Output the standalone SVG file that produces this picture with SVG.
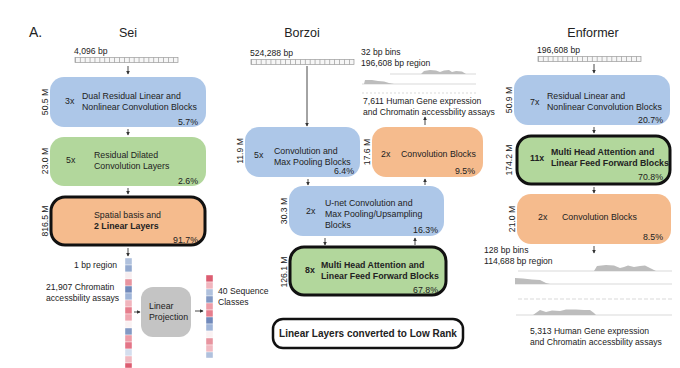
<svg xmlns="http://www.w3.org/2000/svg" width="680" height="368" viewBox="0 0 680 368">
<defs>
<style>
text{font-family:"Liberation Sans",Arial,sans-serif;fill:#222;}
.t{font-size:12.5px;}
.b{font-size:8.8px;}
.bb{font-size:8.8px;font-weight:bold;}
.s{font-size:8.6px;}
.r{font-size:8.6px;text-anchor:middle;}
.p{font-size:8.8px;text-anchor:end;}
.blue{fill:#adc7e8;}
.green{fill:#b2d79c;}
.orange{fill:#f5bb8d;}
.thick{stroke:#111;stroke-width:3;}
.arr{stroke:#333;stroke-width:0.9;fill:none;marker-end:url(#ah);}
.seqbox{fill:#f6f6f6;stroke:#9a9a9a;stroke-width:0.7;}
.seqtick{stroke:#9a9a9a;stroke-width:5;stroke-dasharray:0.7 4.2;}
.trk{fill:#bdbdbd;}
.base{stroke:#cfcfcf;stroke-width:0.8;}
</style>
<marker id="ah" viewBox="0 0 6 6" refX="5" refY="3" markerWidth="4" markerHeight="4" orient="auto">
<path d="M0,0 L6,3 L0,6 z" fill="#333"/>
</marker>
</defs>
<rect width="680" height="368" fill="#fff"/>

<text x="29" y="37" style="font-size:14px">A.</text>
<text x="128" y="37" class="t" text-anchor="middle">Sei</text>
<text x="302" y="37" class="t" text-anchor="middle">Borzoi</text>
<text x="593" y="37" class="t" text-anchor="middle">Enformer</text>

<g id="connectors">
<line class="arr" x1="128" y1="66" x2="128" y2="74"/>
<line class="arr" x1="128" y1="129" x2="128" y2="135"/>
<line class="arr" x1="128" y1="188" x2="128" y2="194"/>
<line class="arr" x1="128" y1="248" x2="128" y2="256"/>
<line class="arr" x1="134" y1="312" x2="140" y2="312"/>
<line class="arr" x1="195" y1="311" x2="203" y2="311"/>
<line class="arr" x1="307" y1="66" x2="307" y2="126"/>
<line class="arr" x1="425" y1="125" x2="425" y2="117"/>
<line class="arr" x1="308" y1="179" x2="308" y2="185"/>
<line class="arr" x1="425" y1="185" x2="425" y2="179"/>
<line class="arr" x1="325" y1="238" x2="325" y2="245"/>
<line class="arr" x1="415" y1="245" x2="415" y2="238"/>
<line class="arr" x1="594" y1="64" x2="594" y2="73"/>
<line class="arr" x1="594" y1="127" x2="594" y2="133"/>
<line class="arr" x1="594" y1="187" x2="594" y2="193"/>
<line class="arr" x1="594" y1="246" x2="594" y2="253"/>
</g>

<!-- Sei -->
<g id="sei-input">
<text x="74" y="54" class="s">4,096 bp</text>
<rect x="75" y="57.5" width="103" height="5" class="seqbox"/>
<line x1="75" y1="60" x2="178" y2="60" class="seqtick"/>
</g>
<g id="sei-dual">
<rect x="50" y="77" width="156" height="50" rx="14" class="blue"/>
<text transform="translate(48,102) rotate(-90)" class="r">50.5 M</text>
<text x="65" y="104" class="b">3x</text>
<text x="82" y="99" class="b">Dual Residual Linear and</text>
<text x="82" y="110" class="b">Nonlinear Convolution Blocks</text>
<text x="198" y="125" class="p">5.7%</text>
</g>
<g id="sei-dilated">
<rect x="50" y="137" width="156" height="49" rx="14" class="green"/>
<text transform="translate(48,161) rotate(-90)" class="r">23.0 M</text>
<text x="66" y="163" class="b">5x</text>
<text x="94" y="158" class="b">Residual Dilated</text>
<text x="94" y="169" class="b">Convolution Layers</text>
<text x="198" y="184" class="p">2.6%</text>
</g>
<g id="sei-spatial">
<rect x="51" y="197" width="154" height="48" rx="14" class="orange thick"/>
<text transform="translate(48,221) rotate(-90)" class="r">816.5 M</text>
<text x="94" y="218" class="b">Spatial basis and</text>
<text x="94" y="229" class="bb">2 Linear Layers</text>
<text x="198" y="243" class="p">91.7%</text>
</g>
<g id="sei-assays">
<text x="117" y="268" class="s" text-anchor="end">1 bp region</text>
<text x="46" y="290" class="s">21,907 Chromatin</text>
<text x="46" y="301" class="s">accessbility assays</text>
<g stroke="#fff" stroke-width="0.4">
<rect x="125" y="258" width="7" height="7" fill="#b0c1dd"/>
<rect x="125" y="265" width="7" height="7" fill="#93a9cf"/>
<rect x="125" y="272" width="7" height="7" fill="#f7eef0"/>
<rect x="125" y="279" width="7" height="7" fill="#e8949f"/>
<rect x="125" y="286" width="7" height="7" fill="#7089bb"/>
<rect x="125" y="293" width="7" height="7" fill="#a0b5d8"/>
<rect x="125" y="300" width="7" height="7" fill="#f1b5bd"/>
<rect x="125" y="307" width="7" height="7" fill="#e67d8c"/>
<rect x="125" y="314" width="7" height="7" fill="#efa6b0"/>
<rect x="125" y="321" width="7" height="7" fill="#faf2f3"/>
<rect x="125" y="328" width="7" height="7" fill="#8399c4"/>
<rect x="125" y="335" width="7" height="7" fill="#ed9ca7"/>
<rect x="125" y="342" width="7" height="7" fill="#e47587"/>
<rect x="125" y="349" width="7" height="7" fill="#d4deee"/>
<rect x="125" y="356" width="7" height="7" fill="#f1b9c1"/>
<rect x="125" y="363" width="7" height="5" fill="#dc5d71"/>
</g>
</g>
<g id="sei-projection">
<rect x="141" y="287" width="50" height="50" rx="12" fill="#c4c4c4"/>
<text x="149" y="309" class="b">Linear</text>
<text x="149" y="320" class="b">Projection</text>
</g>
<g id="sei-classes">
<g stroke="#fff" stroke-width="0.4">
<rect x="206" y="275" width="7" height="7" fill="#dc5d71"/>
<rect x="206" y="282" width="7" height="7" fill="#f1b5bd"/>
<rect x="206" y="289" width="7" height="7" fill="#b0c1dd"/>
<rect x="206" y="296" width="7" height="7" fill="#8399c4"/>
<rect x="206" y="303" width="7" height="7" fill="#ed9ca7"/>
<rect x="206" y="310" width="7" height="7" fill="#e67d8c"/>
<rect x="206" y="317" width="7" height="7" fill="#7089bb"/>
<rect x="206" y="324" width="7" height="7" fill="#a0b5d8"/>
<rect x="206" y="331" width="7" height="7" fill="#faf2f3"/>
<rect x="206" y="338" width="7" height="7" fill="#e8949f"/>
<rect x="206" y="345" width="7" height="7" fill="#f1b9c1"/>
<rect x="206" y="352" width="7" height="6" fill="#b0c1dd"/>
</g>
<text x="218" y="294" class="s">40 Sequence</text>
<text x="218" y="305" class="s">Classes</text>
</g>

<!-- Borzoi -->
<g id="borzoi-input">
<text x="250" y="56" class="s">524,288 bp</text>
<rect x="251" y="59.5" width="103" height="5" class="seqbox"/>
<line x1="251" y1="62" x2="354" y2="62" class="seqtick"/>
</g>
<g id="borzoi-output">
<text x="361" y="55" class="s">32 bp bins</text>
<text x="361" y="66" class="s">196,608 bp region</text>
<line class="base" x1="390" y1="74" x2="476" y2="74"/>
<path class="trk" d="M421,74 L424,71 L430,70 L436,70.5 L440,72 L444,70.5 L449,70 L452,72 L456,71 L462,71.5 L466,74 z"/>
<line class="base" x1="362" y1="84" x2="476" y2="84"/>
<path class="trk" d="M364,84 L365,80 L372,80 L378,81 L384,81.5 L389,83 L394,84 z"/>
<line class="base" x1="362" y1="93" x2="476" y2="93" stroke-dasharray="2 2"/>
<text x="363" y="104" class="s">7,611 Human Gene expression</text>
<text x="363" y="115" class="s">and Chromatin accessbility assays</text>
</g>
<g id="borzoi-conv-pool">
<rect x="245" y="127" width="115" height="50" rx="14" class="blue"/>
<text transform="translate(243,151) rotate(-90)" class="r">11.9 M</text>
<text x="254" y="158" class="b">5x</text>
<text x="274" y="154" class="b">Convolution and</text>
<text x="274" y="165" class="b">Max Pooling Blocks</text>
<text x="354" y="174" class="p">6.4%</text>
</g>
<g id="borzoi-conv">
<rect x="372" y="127" width="111" height="50" rx="14" class="orange"/>
<text transform="translate(370,152) rotate(-90)" class="r">17.6 M</text>
<text x="381" y="157" class="b">2x</text>
<text x="401" y="157" class="b">Convolution Blocks</text>
<text x="475" y="174" class="p">9.5%</text>
</g>
<g id="borzoi-unet">
<rect x="289" y="186" width="155" height="50" rx="14" class="blue"/>
<text transform="translate(287,211) rotate(-90)" class="r">30.3 M</text>
<text x="306" y="214" class="b">2x</text>
<text x="325" y="206" class="b">U-net Convolution and</text>
<text x="325" y="217" class="b">Max Pooling/Upsampling</text>
<text x="325" y="228" class="b">Blocks</text>
<text x="438" y="233" class="p">16.3%</text>
</g>
<g id="borzoi-attn">
<rect x="290" y="247" width="156" height="48" rx="14" class="green thick"/>
<text transform="translate(287,272) rotate(-90)" class="r">126.1 M</text>
<text x="305" y="273" class="bb">8x</text>
<text x="321" y="268" class="bb">Multi Head Attention and</text>
<text x="321" y="279" class="bb">Linear Feed Forward Blocks</text>
<text x="438" y="293" class="p">67.8%</text>
</g>
<g id="low-rank">
<rect x="273" y="319" width="190" height="29" rx="10" fill="#fff" stroke="#111" stroke-width="2.5"/>
<text x="368" y="337" text-anchor="middle" style="font-size:10px;font-weight:bold">Linear Layers converted to Low Rank</text>
</g>

<!-- Enformer -->
<g id="enformer-input">
<text x="537" y="53" class="s">196,608 bp</text>
<rect x="538" y="56.5" width="103" height="5" class="seqbox"/>
<line x1="538" y1="59" x2="641" y2="59" class="seqtick"/>
</g>
<g id="enformer-conv-res">
<rect x="514" y="75" width="156" height="50" rx="14" class="blue"/>
<text transform="translate(512,100) rotate(-90)" class="r">50.9 M</text>
<text x="530" y="105" class="b">7x</text>
<text x="547" y="99" class="b">Residual Linear and</text>
<text x="547" y="110" class="b">Nonlinear Convolution Blocks</text>
<text x="663" y="123" class="p">20.7%</text>
</g>
<g id="enformer-attn">
<rect x="517" y="136" width="153" height="48" rx="14" class="green thick"/>
<text transform="translate(512,160) rotate(-90)" class="r">174.2 M</text>
<text x="530" y="161" class="bb">11x</text>
<text x="551" y="155" class="bb">Multi Head Attention and</text>
<text x="551" y="166" class="bb">Linear Feed Forward Blocks</text>
<text x="663" y="180" class="p">70.8%</text>
</g>
<g id="enformer-conv">
<rect x="517" y="194" width="154" height="50" rx="14" class="orange"/>
<text transform="translate(515,219) rotate(-90)" class="r">21.0 M</text>
<text x="538" y="220" class="b">2x</text>
<text x="562" y="220" class="b">Convolution Blocks</text>
<text x="663" y="240" class="p">8.5%</text>
</g>
<g id="enformer-output">
<text x="484" y="253" class="s">128 bp bins</text>
<text x="484" y="264" class="s">114,688 bp region</text>
<line class="base" x1="518" y1="271" x2="672" y2="271"/>
<path class="trk" d="M594,271 L597,266 L606,265 L614,265.5 L620,268 L624,267 L628,265.5 L634,267 L640,266 L645,265.5 L651,268.5 L656,271 z"/>
<line class="base" x1="515" y1="284" x2="672" y2="284"/>
<path class="trk" d="M515,284 L515,278 L523,278.5 L532,279.5 L540,280 L546,283 L550,284 z"/>
<line class="base" x1="518" y1="299" x2="672" y2="299" stroke-dasharray="4 2"/>
<line class="base" x1="516" y1="315" x2="672" y2="315"/>
<path class="trk" d="M533,315 L540,310 L546,312 L552,310.5 L560,311 L566,309.5 L576,309.5 L584,310 L590,310 L594,313 L596,315 z"/>
<text x="530" y="334" class="s">5,313 Human Gene expression</text>
<text x="530" y="345" class="s">and Chromatin accessbility assays</text>
</g>
</svg>
